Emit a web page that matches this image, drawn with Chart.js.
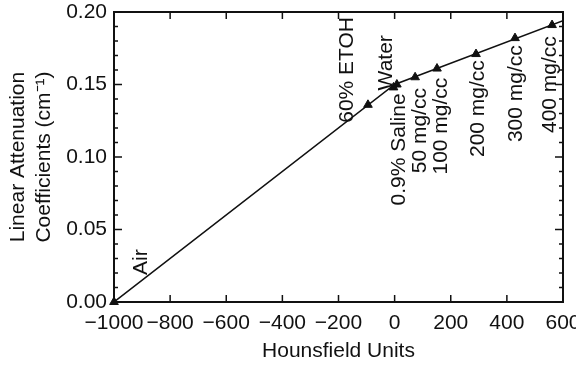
<!DOCTYPE html>
<html>
<head>
<meta charset="utf-8">
<script src="https://cdn.jsdelivr.net/npm/chart.js@4.4.0/dist/chart.umd.min.js"></script>
<style>
    html, body { margin: 0; padding: 0; background: #fff; }
    canvas { display: block; }
</style>
</head>
<body>
<canvas id="muChart" width="576" height="366"></canvas>
<script>
// data
const materials = ['Air', '60% ETOH', 'Water', '0.9% Saline', '50 mg/cc', '100 mg/cc', '200 mg/cc', '300 mg/cc', '400 mg/cc'];
const materialHU = [-1000, -95, -4, 8, 73, 151, 290, 429, 561];
const materialMu = [0.000, 0.136, 0.148, 0.150, 0.155, 0.161, 0.171, 0.182, 0.191];

// the drawn line (kinks at water, runs to the right edge)
const lineHU = [-1000, 0, 600];
const lineMu = [0.000, 0.150, 0.194];

const xTicks = [-1000, -800, -600, -400, -200, 0, 200, 400, 600];
const yTicks = [0.00, 0.05, 0.10, 0.15, 0.20];
const yMinorTicks = [0.01, 0.02, 0.03, 0.04, 0.06, 0.07, 0.08, 0.09, 0.11, 0.12, 0.13, 0.14, 0.16, 0.17, 0.18, 0.19];

// where each rotated label starts, relative to its marker (px)
const labelOffsets = [
    [27, -27], [-21, 18], [-7, 3], [2, 121], [5, 96],
    [4, 106], [2, 103], [1, 104], [-2, 108]
];

const FONT = "'Liberation Sans', Arial, sans-serif";
const INK = '#111';

const frameAndTicks = {
    id: 'frameAndTicks',
    afterDatasetsDraw(chart) {
        const { ctx, chartArea: a, scales: { x, y } } = chart;
        ctx.save();
        ctx.strokeStyle = INK;
        ctx.lineWidth = 2;
        ctx.strokeRect(a.left, a.top, a.right - a.left, a.bottom - a.top);
        ctx.lineWidth = 1.5;
        ctx.beginPath();
        xTicks.forEach(v => {
            const px = x.getPixelForValue(v);
            ctx.moveTo(px, a.bottom); ctx.lineTo(px, a.bottom - 7);
            ctx.moveTo(px, a.top); ctx.lineTo(px, a.top + 7);
        });
        yTicks.forEach(v => {
            const py = y.getPixelForValue(v);
            ctx.moveTo(a.left, py); ctx.lineTo(a.left + 8, py);
            ctx.moveTo(a.right, py); ctx.lineTo(a.right - 8, py);
        });
        yMinorTicks.forEach(v => {
            const py = y.getPixelForValue(v);
            ctx.moveTo(a.left, py); ctx.lineTo(a.left + 4, py);
            ctx.moveTo(a.right, py); ctx.lineTo(a.right - 4, py);
        });
        ctx.stroke();
        ctx.restore();
    }
};

const materialLabels = {
    id: 'materialLabels',
    afterDatasetsDraw(chart) {
        const { ctx, scales: { x, y } } = chart;
        ctx.save();
        ctx.fillStyle = INK;
        ctx.font = '21px ' + FONT;
        ctx.textAlign = 'left';
        ctx.textBaseline = 'middle';
        materials.forEach((name, i) => {
            const px = x.getPixelForValue(materialHU[i]) + labelOffsets[i][0];
            const py = y.getPixelForValue(materialMu[i]) + labelOffsets[i][1];
            ctx.save();
            ctx.translate(px, py);
            ctx.rotate(-Math.PI / 2);
            ctx.fillText(name, 0, 0);
            ctx.restore();
        });
        ctx.restore();
    }
};

new Chart(document.getElementById('muChart'), {
    type: 'scatter',
    data: {
        datasets: [{
            type: 'line',
            data: lineHU.map((v, i) => ({ x: v, y: lineMu[i] })),
            borderColor: INK,
            borderWidth: 1.5,
            pointRadius: 0,
            fill: false,
            tension: 0
        }, {
            data: materialHU.map((v, i) => ({ x: v, y: materialMu[i] })),
            pointStyle: 'triangle',
            pointRadius: 5,
            backgroundColor: INK,
            borderColor: INK,
            borderWidth: 1,
            clip: false
        }]
    },
    options: {
        responsive: false,
        animation: false,
        layout: { padding: { top: 12, right: 13, left: 0, bottom: 0 } },
        plugins: { legend: { display: false }, tooltip: { enabled: false } },
        scales: {
            x: {
                type: 'linear',
                min: -1000,
                max: 600,
                afterBuildTicks: s => { s.ticks = xTicks.map(v => ({ value: v })); },
                afterFit: s => { s.height = 64; s.paddingLeft = 0; s.paddingRight = 0; },
                grid: { display: false, drawTicks: false },
                border: { display: false },
                ticks: {
                    color: INK,
                    padding: 9,
                    autoSkip: false,
                    maxRotation: 0,
                    font: { family: FONT, size: 21 },
                    callback: v => v < 0 ? '\u2212' + Math.abs(v) : String(v)
                },
                title: {
                    display: true,
                    text: 'Hounsfield Units',
                    color: INK,
                    font: { family: FONT, size: 21 },
                    padding: { top: 0, bottom: 2 }
                }
            },
            y: {
                type: 'linear',
                min: 0,
                max: 0.2,
                afterBuildTicks: s => { s.ticks = yTicks.map(v => ({ value: v })); },
                afterFit: s => { s.width = 114; s.paddingTop = 0; s.paddingBottom = 0; },
                grid: { display: false, drawTicks: false },
                border: { display: false },
                ticks: {
                    color: INK,
                    padding: 7,
                    autoSkip: false,
                    font: { family: FONT, size: 21 },
                    callback: v => v.toFixed(2)
                },
                title: {
                    display: true,
                    text: ['Linear Attenuation', 'Coefficients (cm\u207B\u00B9)'],
                    color: INK,
                    font: { family: FONT, size: 21, lineHeight: 1.2 },
                    padding: { top: 6, bottom: 0 }
                }
            }
        }
    },
    plugins: [frameAndTicks, materialLabels]
});
</script>
</body>
</html>
